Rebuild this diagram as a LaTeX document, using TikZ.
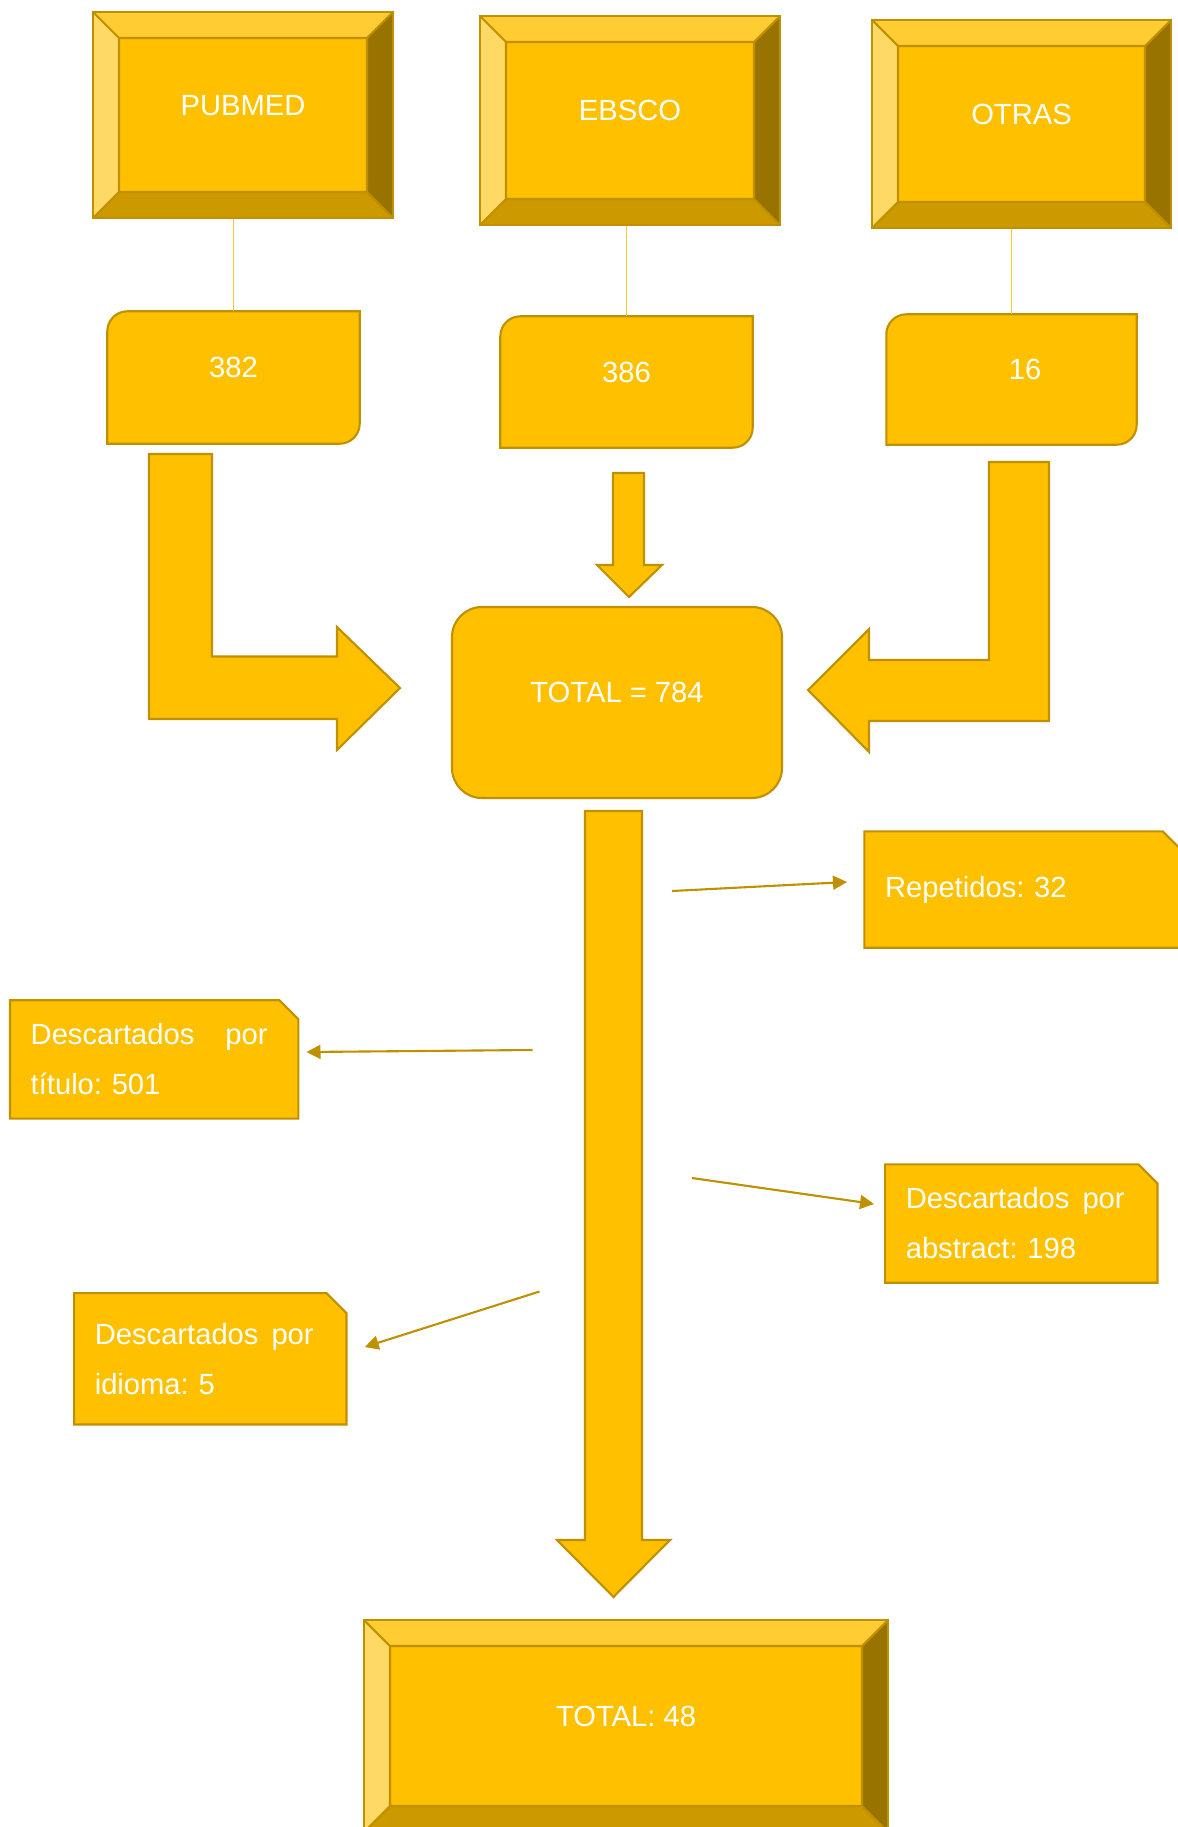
\documentclass[tikz,border=0pt]{standalone}
\usepackage{fontspec}
\setmainfont{Liberation Sans}
\frenchspacing
\usetikzlibrary{arrows.meta,backgrounds,calc}

\definecolor{gold}{HTML}{FFC000}
\definecolor{goldline}{HTML}{BF9000}
\definecolor{bevtop}{HTML}{FFCC33}
\definecolor{bevleft}{HTML}{FFD966}
\definecolor{bevbot}{HTML}{CC9900}
\definecolor{bevright}{HTML}{997300}
\definecolor{thinline}{HTML}{FFC733}

\newcommand\boxfont{\fontsize{8.3}{14.2}\selectfont}

\tikzset{
  boxtext/.style={text=white, font=\boxfont, inner sep=0pt, text height=0.21cm, text depth=0.21cm},
  bevelbox/.style={boxtext, draw=goldline, fill=gold, line width=0.6pt,
    path picture={
      \coordinate (bnw) at (path picture bounding box.north west);
      \coordinate (bne) at (path picture bounding box.north east);
      \coordinate (bse) at (path picture bounding box.south east);
      \coordinate (bsw) at (path picture bounding box.south west);
      \coordinate (inw) at ($(bnw)+(0.26,-0.26)$);
      \coordinate (ine) at ($(bne)+(-0.26,-0.26)$);
      \coordinate (ise) at ($(bse)+(-0.26,0.26)$);
      \coordinate (isw) at ($(bsw)+(0.26,0.26)$);
      \fill[bevtop] (bnw) -- (bne) -- (ine) -- (inw) -- cycle;
      \fill[bevleft] (bnw) -- (inw) -- (isw) -- (bsw) -- cycle;
      \fill[bevbot] (bsw) -- (isw) -- (ise) -- (bse) -- cycle;
      \fill[bevright] (bne) -- (ine) -- (ise) -- (bse) -- cycle;
      \draw[goldline, line width=0.6pt] (inw) rectangle (ise)
        (bnw) -- (inw) (bne) -- (ine) (bse) -- (ise) (bsw) -- (isw);
    }},
  numbox/.style={boxtext},
  totalbox/.style={boxtext, draw=goldline, fill=gold, line width=0.6pt, rounded corners=0.3cm},
  notebox/.style={text=white, font=\boxfont, inner xsep=0.2cm, inner ysep=0pt, align=left},
  goldshape/.style={draw=goldline, fill=gold, line width=0.6pt},
  blockarrow/.style={draw=goldline, fill=gold, line width=0.6pt},
  notearrow/.style={draw=goldline, line width=0.6pt, -{Triangle[length=0.14cm,width=0.14cm]}},
  link/.style={draw=thinline, line width=0.3pt}
}

\begin{document}
\begin{tikzpicture}
\useasboundingbox (0,0) rectangle (11.77,-18.27);

\node[bevelbox, minimum width=3.00cm, minimum height=2.06cm] (pubmed) at (2.43,-1.15) {PUBMED};
\node[bevelbox, minimum width=3.00cm, minimum height=2.09cm] (ebsco) at (6.30,-1.205) {EBSCO};
\node[bevelbox, minimum width=2.99cm, minimum height=2.08cm] (otras) at (10.215,-1.24) {OTRAS};

\node[numbox, minimum width=2.51cm, minimum height=1.31cm] (n382) at (2.335,-3.775) {382};
\node[numbox, minimum width=2.51cm, minimum height=1.30cm] (n386) at (6.265,-3.82) {386};
\node[numbox, minimum width=2.49cm, minimum height=1.29cm] (n16) at (10.115,-3.795) {\hspace{0.27cm}16};

\node[totalbox, minimum width=3.30cm, minimum height=1.91cm] (total) at (6.17,-7.025) {TOTAL = 784};

\node[notebox, text width=2.75cm, minimum height=1.15cm] (rep) at (10.225,-8.895) {Repetidos: 32};
\node[notebox, text width=2.47cm, minimum height=1.17cm] (titulo) at (1.542,-10.594) {Descartados\hspace{0.31cm}por\\título: 501};
\node[notebox, text width=2.31cm, minimum height=1.17cm] (abstract) at (10.213,-12.235) {Descartados\hspace{0.13cm}por\\abstract: 198};
\node[notebox, text width=2.31cm, minimum height=1.30cm] (idioma) at (2.103,-13.5875) {Descartados\hspace{0.13cm}por\\idioma: 5};

\node[bevelbox, minimum width=5.24cm, minimum height=2.12cm] (final) at (6.26,-17.26) {TOTAL: 48};

\begin{scope}[on background layer]
\filldraw[goldshape] (n382.north east) -- ([yshift=0.2cm]n382.south east) arc[start angle=0, end angle=-90, radius=0.2cm] -- (n382.south west) -- ([yshift=-0.2cm]n382.north west) arc[start angle=180, end angle=90, radius=0.2cm] -- cycle;
\filldraw[goldshape] (n386.north east) -- ([yshift=0.2cm]n386.south east) arc[start angle=0, end angle=-90, radius=0.2cm] -- (n386.south west) -- ([yshift=-0.2cm]n386.north west) arc[start angle=180, end angle=90, radius=0.2cm] -- cycle;
\filldraw[goldshape] (n16.north east) -- ([yshift=0.2cm]n16.south east) arc[start angle=0, end angle=-90, radius=0.2cm] -- (n16.south west) -- ([yshift=-0.2cm]n16.north west) arc[start angle=180, end angle=90, radius=0.2cm] -- cycle;

\filldraw[goldshape] (rep.south west) -- (rep.north west) -- ([xshift=-0.18cm]rep.north east) -- ([yshift=-0.18cm]rep.north east) -- (rep.south east) -- cycle;
\filldraw[goldshape] (titulo.south west) -- (titulo.north west) -- ([xshift=-0.19cm]titulo.north east) -- ([yshift=-0.19cm]titulo.north east) -- (titulo.south east) -- cycle;
\filldraw[goldshape] (abstract.south west) -- (abstract.north west) -- ([xshift=-0.19cm]abstract.north east) -- ([yshift=-0.19cm]abstract.north east) -- (abstract.south east) -- cycle;
\filldraw[goldshape] (idioma.south west) -- (idioma.north west) -- ([xshift=-0.2cm]idioma.north east) -- ([yshift=-0.2cm]idioma.north east) -- (idioma.south east) -- cycle;
\end{scope}

\draw[link] (n382.north |- pubmed.south) -- (n382.north);
\draw[link] (n386.north |- ebsco.south) -- (n386.north);
\draw[link] (n16.north |- otras.south) -- (n16.north);

\filldraw[blockarrow] (1.49,-4.54) -- (2.12,-4.54) -- (2.12,-6.565) -- (3.37,-6.565) -- (3.37,-6.27) -- (4.00,-6.88) -- (3.37,-7.50) -- (3.37,-7.19) -- (1.49,-7.19) -- cycle;
\filldraw[blockarrow] (10.49,-4.62) -- (9.89,-4.62) -- (9.89,-6.60) -- (8.69,-6.60) -- (8.69,-6.29) -- (8.08,-6.90) -- (8.69,-7.52) -- (8.69,-7.21) -- (10.49,-7.21) -- cycle;
\filldraw[blockarrow] (6.13,-4.73) -- (6.44,-4.73) -- (6.44,-5.65) -- (6.62,-5.65) -- (6.29,-5.97) -- (5.97,-5.65) -- (6.13,-5.65) -- cycle;
\filldraw[blockarrow] (5.85,-8.11) -- (6.42,-8.11) -- (6.42,-15.40) -- (6.70,-15.40) -- (6.135,-15.97) -- (5.57,-15.40) -- (5.85,-15.40) -- cycle;

\coordinate (repfrom) at (6.72,-8.91);
\coordinate (repto) at (8.47,-8.82);
\coordinate (titfrom) at (5.325,-10.50);
\coordinate (titto) at (3.065,-10.52);
\coordinate (absfrom) at (6.92,-11.78);
\coordinate (absto) at (8.74,-12.04);
\coordinate (idifrom) at (5.395,-12.915);
\coordinate (idito) at (3.647,-13.47);
\draw[notearrow] (repfrom) -- (repto);
\draw[notearrow] (titfrom) -- (titto);
\draw[notearrow] (absfrom) -- (absto);
\draw[notearrow] (idifrom) -- (idito);
\end{tikzpicture}
\end{document}
